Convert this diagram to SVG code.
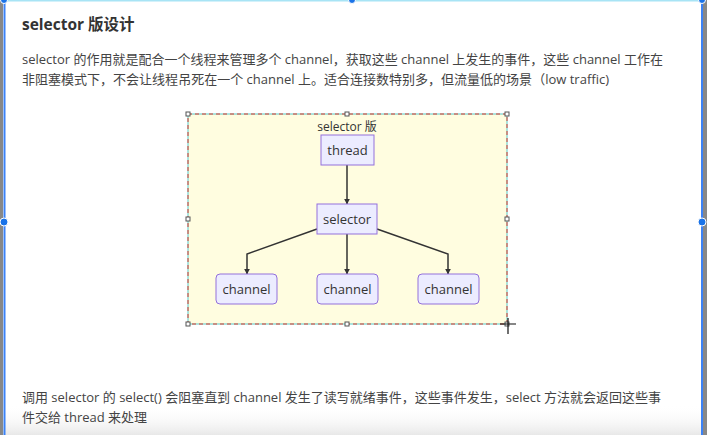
<svg xmlns="http://www.w3.org/2000/svg" width="707" height="435" viewBox="0 0 707 435">
<defs>
<style>
.t{font-family:"Open Sans","Noto Sans CJK SC",sans-serif;fill:#444;}
.p{font-size:13px;}
.node rect{fill:#ECECFF;stroke:#9370DB;stroke-width:1;}
.node text{font-family:"Open Sans","Noto Sans CJK SC",sans-serif;font-size:13px;fill:#333;text-anchor:middle;}
.edge{fill:none;stroke:#333;stroke-width:1.5;marker-end:url(#arr);}
.h{fill:#fff;stroke:#555;stroke-width:1;}
.dot{fill:#1a73e8;stroke:#fff;stroke-width:1;}
</style>
<marker id="arr" viewBox="0 0 10 10" refX="9" refY="5" markerWidth="6" markerHeight="6" orient="auto" markerUnits="userSpaceOnUse"><path d="M0,0 L10,5 L0,10 z" fill="#333"/></marker>
<linearGradient id="bg" x1="0" y1="0" x2="0" y2="1">
<stop offset="0" stop-color="#ffffff" stop-opacity="0"/>
<stop offset="1" stop-color="#e8e8e8" stop-opacity="1"/>
</linearGradient>
</defs>
<rect x="0" y="0" width="707" height="435" fill="#fff"/>
<rect x="0" y="405" width="707" height="30" fill="url(#bg)"/>
<rect x="0" y="0" width="3" height="435" fill="#888"/>
<rect x="703" y="0" width="4" height="435" fill="#888"/>
<rect x="3.5" y="0" width="2" height="435" fill="#3b82f6"/>
<rect x="701" y="0" width="2" height="435" fill="#3b82f6"/>
<rect x="4" y="0" width="698" height="1.5" fill="#a8e4f5"/>
<circle class="dot" cx="352" cy="0" r="3.5"/>
<circle class="dot" cx="702" cy="0" r="3.5"/>
<circle class="dot" cx="4" cy="0" r="3.5"/>
<circle class="dot" cx="4" cy="222" r="4"/>
<circle class="dot" cx="702" cy="222" r="4"/>

<text class="t" x="22" y="30" font-size="15.5" font-weight="bold" fill="#333" style="fill:#333">selector 版设计</text>
<text class="t p" x="22" y="64" textLength="641" lengthAdjust="spacingAndGlyphs">selector 的作用就是配合一个线程来管理多个 channel，获取这些 channel 上发生的事件，这些 channel 工作在</text>
<text class="t p" x="22" y="84" textLength="587" lengthAdjust="spacingAndGlyphs">非阻塞模式下，不会让线程吊死在一个 channel 上。适合连接数特别多，但流量低的场景（low traffic)</text>

<g id="cluster">
<rect x="188" y="114" width="319" height="210" fill="#fffde0" stroke="#59c9c9" stroke-width="1"/>
<rect x="188" y="114" width="319" height="210" fill="none" stroke="#e0392b" stroke-width="1" stroke-dasharray="4,3"/>
<text x="347" y="131" font-family="'Open Sans','Noto Sans CJK SC',sans-serif" font-size="12" fill="#333" text-anchor="middle">selector 版</text>
</g>

<g id="connectors">
<path class="edge" d="M347,165 L347,204"/>
<path class="edge" d="M317,229 L247,254 L247,274"/>
<path class="edge" d="M347,234 L347,274"/>
<path class="edge" d="M377,229 L448,254 L448,274"/>
</g>

<g id="thread" class="node"><rect x="321" y="135" width="53" height="30"/><text x="347.5" y="155">thread</text></g>
<g id="selector" class="node"><rect x="317" y="204" width="60" height="30"/><text x="347" y="224">selector</text></g>
<g id="channel1" class="node"><rect x="216" y="274" width="61" height="30" rx="4"/><text x="246.5" y="294">channel</text></g>
<g id="channel2" class="node"><rect x="317" y="274" width="61" height="30" rx="4"/><text x="347.5" y="294">channel</text></g>
<g id="channel3" class="node"><rect x="418" y="274" width="61" height="30" rx="4"/><text x="448.5" y="294">channel</text></g>

<g id="handles">
<rect class="h" x="186" y="112" width="4" height="4"/>
<rect class="h" x="345" y="112" width="4" height="4"/>
<rect class="h" x="505" y="112" width="4" height="4"/>
<rect class="h" x="186" y="217" width="4" height="4"/>
<rect class="h" x="505" y="217" width="4" height="4"/>
<rect class="h" x="186" y="322" width="4" height="4"/>
<rect class="h" x="345" y="322" width="4" height="4"/>
<rect class="h" x="505" y="322" width="4" height="4"/>
<path d="M508,318 L508,334 M500,324 L516,324" stroke="#111" stroke-width="1.2"/>
</g>

<text class="t p" x="22" y="402" textLength="639" lengthAdjust="spacingAndGlyphs">调用 selector 的 select() 会阻塞直到 channel 发生了读写就绪事件，这些事件发生，select 方法就会返回这些事</text>
<text class="t p" x="22" y="422" textLength="125" lengthAdjust="spacingAndGlyphs">件交给 thread 来处理</text>
</svg>
